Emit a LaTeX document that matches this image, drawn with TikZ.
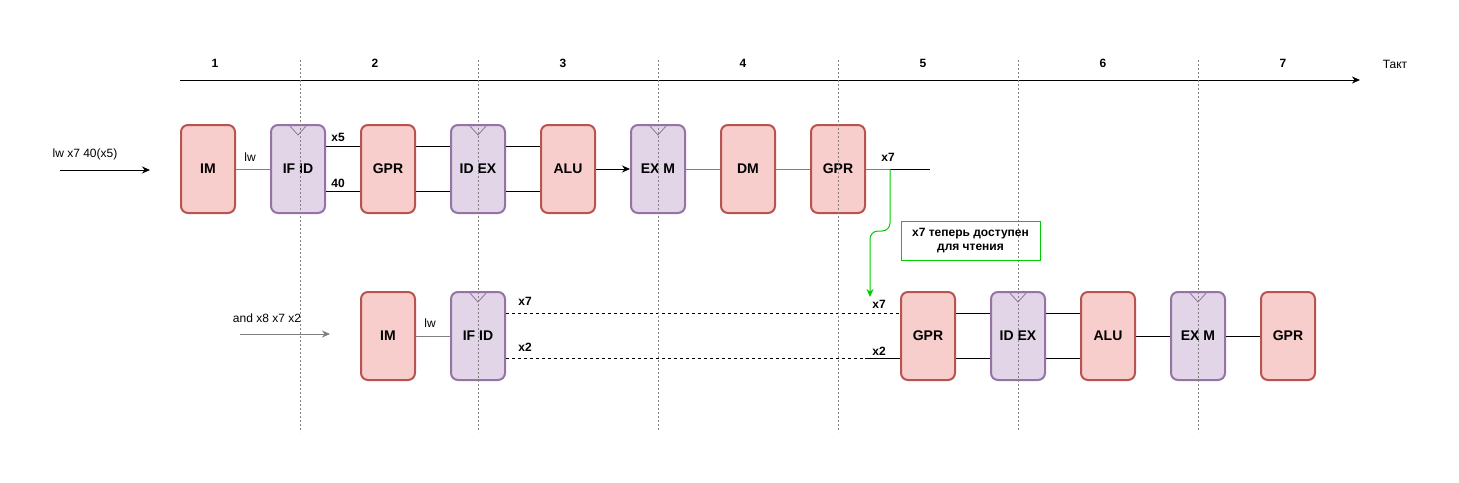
\documentclass[tikz,border=0pt]{standalone}
\usepackage{fontspec}
\setmainfont{Liberation Sans}
\usetikzlibrary{arrows.meta}

\definecolor{unitfill}{HTML}{F8CECC}
\definecolor{unitline}{HTML}{B85450}
\definecolor{latchfill}{HTML}{E1D5E7}
\definecolor{latchline}{HTML}{9673A6}
\definecolor{wiregray}{HTML}{808080}
\definecolor{notegreen}{HTML}{00CC00}

\begin{document}
\begin{tikzpicture}[x=1pt,y=-1pt,
    unit/.style = {draw=unitline, fill=unitfill, line width=2pt, rounded corners=7pt,
        minimum width=54pt, minimum height=88pt, inner sep=0pt,
        font=\fontsize{14}{16}\selectfont\bfseries},
    latch/.style = {unit, draw=latchline, fill=latchfill,
        path picture={\draw[latchline, line width=0.8pt, sharp corners]
            ([xshift=-9pt]path picture bounding box.north) --
            ([yshift=-10pt]path picture bounding box.north) --
            ([xshift=9pt]path picture bounding box.north);}},
    tick/.style = {font=\fontsize{12}{14}\selectfont\bfseries, inner sep=1pt},
    lbl/.style = {font=\fontsize{12}{14}\selectfont, inner sep=1pt},
    guide/.style = {wiregray, line width=0.6pt, dash pattern=on 2pt off 2pt}]

    \useasboundingbox (0,0) rectangle (1459,482);

    \node[tick] (n1) at (215,63) {1};
    \node[tick] (n2) at (375,63) {2};
    \node[tick] (n3) at (563,63) {3};
    \node[tick] (n4) at (743,63) {4};
    \node[tick] (n5) at (923,63) {5};
    \node[tick] (n6) at (1103,63) {6};
    \node[tick] (n7) at (1283,63) {7};
    \node[lbl] (takt) at (1395,64) {Такт};
    \coordinate (tA) at (180,80);
    \coordinate (tB) at (1360,80);
    \draw[line width=1pt, -{Stealth[length=8pt,width=7pt]}] (tA) -- (tB);

    \node[unit]  (uIM)   at (208,169) {IM};
    \node[latch] (uIFID) at (298,169) {IF ID};
    \node[unit]  (uGPR)  at (388,169) {GPR};
    \node[latch] (uIDEX) at (478,169) {ID EX};
    \node[unit]  (uALU)  at (568,169) {ALU};
    \node[latch] (uEXM)  at (658,169) {EX M};
    \node[unit]  (uDM)   at (748,169) {DM};
    \node[unit]  (uWB)   at (838,169) {GPR};

    \node[unit]  (lIM)   at (388,336) {IM};
    \node[latch] (lIFID) at (478,336) {IF ID};
    \node[unit]  (lGPR)  at (928,336) {GPR};
    \node[latch] (lIDEX) at (1018,336) {ID EX};
    \node[unit]  (lALU)  at (1108,336) {ALU};
    \node[latch] (lEXM)  at (1198,336) {EX M};
    \node[unit]  (lWB)   at (1288,336) {GPR};

    \node[lbl] (uInstr) at (85,154) {lw x7 40(x5)};
    \coordinate (uInA) at (60,170);
    \coordinate (uInB) at (150,170);
    \draw[line width=1pt, -{Stealth[length=8pt,width=7pt]}] (uInA) -- (uInB);

    \node[lbl] (lInstr) at (267,318) {and x8 x7 x2};
    \coordinate (lInA) at (240,334);
    \coordinate (lInB) at (330,334);
    \draw[wiregray, line width=1pt, -{Stealth[length=8pt,width=7pt]}] (lInA) -- (lInB);

    \tikzset{wire/.style = {line width=1pt, color=wiregray}}
    \draw[wire] (uIM) -- (uIFID);
    \draw[wire] (uEXM) -- (uDM);
    \draw[wire] (uDM) -- (uWB);
    \draw[wire] (lIM) -- (lIFID);
    \coordinate (x7tap) at (890,169);
    \coordinate (x7end) at (930,169);
    \draw[wire] (uWB) -- (x7tap);

    \tikzset{wire/.style = {line width=1pt, color=black}}
    \draw[wire] (x7tap) -- (x7end);
    \draw[wire] ([yshift=23pt]uIFID.east) -- ([yshift=23pt]uGPR.west);
    \draw[wire] ([yshift=-22pt]uIFID.east) -- ([yshift=-22pt]uGPR.west);
    \draw[wire] ([yshift=23pt]uGPR.east) -- ([yshift=23pt]uIDEX.west);
    \draw[wire] ([yshift=-22pt]uGPR.east) -- ([yshift=-22pt]uIDEX.west);
    \draw[wire] ([yshift=23pt]uIDEX.east) -- ([yshift=23pt]uALU.west);
    \draw[wire] ([yshift=-22pt]uIDEX.east) -- ([yshift=-22pt]uALU.west);
    \draw[wire, -{Stealth[length=8pt,width=7pt]}] (uALU) -- (uEXM);
    \draw[wire] ([yshift=23pt]lGPR.east) -- ([yshift=23pt]lIDEX.west);
    \draw[wire] ([yshift=-22pt]lGPR.east) -- ([yshift=-22pt]lIDEX.west);
    \draw[wire] ([yshift=23pt]lIDEX.east) -- ([yshift=23pt]lALU.west);
    \draw[wire] ([yshift=-22pt]lIDEX.east) -- ([yshift=-22pt]lALU.west);
    \draw[wire] (lALU) -- (lEXM);
    \draw[wire] (lEXM) -- (lWB);

    \tikzset{wire/.style = {line width=0.8pt, color=black, dash pattern=on 3pt off 3pt}}
    \draw[wire] ([yshift=23pt]lIFID.east) -- ([yshift=23pt]lGPR.west);
    \draw[wire] ([yshift=-22pt]lIFID.east) -- ([yshift=-22pt]lGPR.west);
    \draw[line width=1pt] ([yshift=-22pt]lGPR.west) -- ++(-35,0);

    \node[lbl] (uLw)  at (250,157) {lw};
    \node[tick] (uX5) at (338,137) {x5};
    \node[tick] (u40) at (338,183) {40};
    \node[tick] (uX7) at (888,157) {x7};
    \node[lbl] (lLw)  at (430,323) {lw};
    \node[tick] (lX7a) at (525,301) {x7};
    \node[tick] (lX2a) at (525,347) {x2};
    \node[tick] (lX7b) at (879,304) {x7};
    \node[tick] (lX2b) at (879,351) {x2};

    \draw[guide] (300,60) -- (300,432);
    \draw[guide] (478,60) -- (478,432);
    \draw[guide] (658,60) -- (658,432);
    \draw[guide] (838,60) -- (838,432);
    \draw[guide] (1018,60) -- (1018,432);
    \draw[guide] (1198,60) -- (1198,432);

    \node[draw=notegreen, line width=1pt, minimum width=139pt, minimum height=39pt,
        align=center, font=\fontsize{12}{14}\selectfont\bfseries] (note) at (970.5,240.5)
        {x7 теперь доступен\\для чтения};
    \coordinate (x7in) at (870,297);
    \draw[notegreen, line width=1pt, rounded corners=8pt, -{Stealth[length=8pt,width=7pt]}]
        (x7tap) -- (890,231) -- (870,231) -- (x7in);
\end{tikzpicture}
\end{document}
